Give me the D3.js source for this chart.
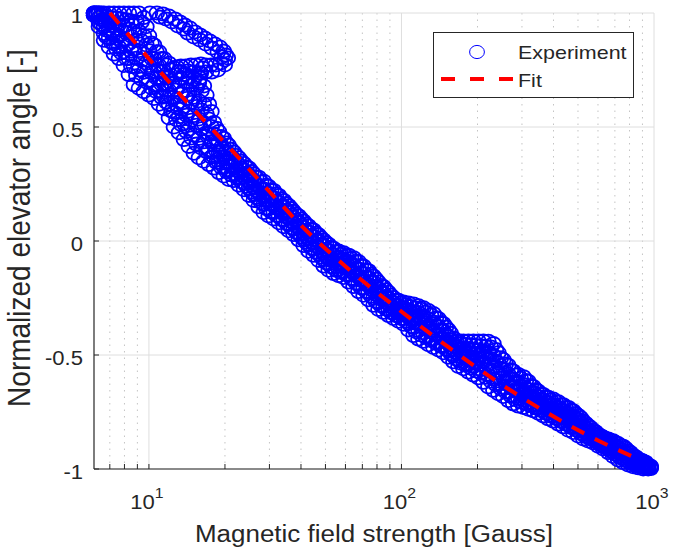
<!DOCTYPE html>
<html>
<head>
<meta charset="utf-8">
<script src="https://cdnjs.cloudflare.com/ajax/libs/d3/7.8.5/d3.min.js"></script>
<style>
  body { margin: 0; background: #fff; }
  svg text { font-family: "Liberation Sans", Arial, Helvetica, sans-serif; fill: #262626; }
</style>
</head>
<body>
<div id="chart"></div>
<script>
// magnetic field [Gauss] for sweeps 1-5
var field = [6.06, 6.34, 6.64, 6.95, 7.27, 7.61, 7.96, 8.33, 8.72, 9.13,
    9.55, 10.0, 10.47, 10.96, 11.47, 12.0, 12.56, 13.15, 13.76, 14.4,
    15.07, 15.77, 16.5, 17.27, 18.08, 18.92, 19.8, 20.7, 21.7, 22.7,
    23.8, 24.9, 26.0, 27.2, 28.5, 29.8, 31.2, 32.7, 34.2, 35.8,
    37.4, 39.2, 41.0, 42.9, 44.9, 47.0, 49.2, 51.5, 53.9, 56.4,
    59.0, 61.8, 64.6, 67.6, 70.8, 74.1, 77.5, 81.1, 84.9, 88.9,
    93.0, 97.3, 101.9, 106.6, 111.6, 116.8, 122.2, 127.9, 133.9, 140.1,
    146.6, 153.4, 160.6, 168.1, 175.9, 184.1, 192.7, 201.7, 211.1, 220.9,
    231.2, 242, 253, 265, 277, 290, 304, 318, 333, 348,
    364, 381, 399, 418, 437, 458, 479, 501, 525, 549,
    575, 601, 629, 659, 689, 721, 755, 790, 827, 866,
    906, 948];

// magnetic field [Gauss] for sweeps 6-9
var fieldB = [6.2, 6.49, 6.79, 7.11, 7.44, 7.78, 8.14, 8.52, 8.92, 9.34,
    9.77, 10.23, 10.71, 11.21, 11.73, 12.28, 12.85, 13.45, 14.08, 14.73,
    15.42, 16.13, 16.88, 17.67, 18.5, 19.36, 20.26, 21.18, 22.2, 23.22,
    24.35, 25.47, 26.6, 27.83, 29.16, 30.49, 31.92, 33.45, 34.99, 36.62,
    38.26, 40.1, 41.94, 43.89, 45.93, 48.08, 50.33, 52.68, 55.14, 57.7,
    60.36, 63.22, 66.09, 69.15, 72.43, 75.8, 79.28, 82.97, 86.85, 90.94,
    95.14, 99.54, 104.2, 109.1, 114.2, 119.5, 125.0, 130.8, 137.0, 143.3,
    150.0, 156.9, 164.3, 172.0, 179.9, 188.3, 197.1, 206.3, 216.0, 226.0,
    236.5, 247.6, 258.8, 271.1, 283.4, 296.7, 311, 325.3, 340.7, 356,
    372.4, 389.8, 408.2, 427.6, 447, 468.5, 490, 512.5, 537, 561.6,
    588.2, 614.8, 643.5, 674.2, 704.8, 737.6, 772.4, 808.2, 846, 886,
    926.8, 969.8];

// normalized elevator angle, one list per sweep
var sweep1 = [1.0, 1.0, 1.0, 1.0, 1.0, 1.0, 1.0, 1.0, 1.0, 1.0,
    0.98, 0.9, 0.86, 0.83, 0.8, 0.78, 0.76, 0.745, 0.73, 0.72,
    0.71, 0.7, 0.68, 0.6, 0.52, 0.48, 0.45, 0.42, 0.39, 0.365,
    0.34, 0.32, 0.295, 0.28, 0.262, 0.24, 0.222, 0.2, 0.178, 0.155,
    0.13, 0.11, 0.087, 0.066, 0.048, 0.027, 0.004, -0.015, -0.032, -0.044,
    -0.052, -0.062, -0.073, -0.09, -0.11, -0.13, -0.154, -0.18, -0.2, -0.225,
    -0.248, -0.26, -0.268, -0.272, -0.276, -0.284, -0.293, -0.305, -0.318, -0.34,
    -0.362, -0.39, -0.425, -0.437, -0.439, -0.439, -0.439, -0.439, -0.439, -0.44,
    -0.45, -0.49, -0.52, -0.545, -0.57, -0.585, -0.595, -0.615, -0.638, -0.658,
    -0.673, -0.685, -0.693, -0.705, -0.718, -0.73, -0.745, -0.765, -0.79, -0.81,
    -0.83, -0.848, -0.86, -0.868, -0.876, -0.888, -0.9, -0.92, -0.94, -0.955,
    -0.965, -0.985];
var sweep2 = [1.0, 1.0, 0.97, 0.96, 0.955, 0.95, 0.94, 0.93, 0.92, 0.92,
    0.9, 0.835, 0.8, 0.77, 0.745, 0.72, 0.695, 0.68, 0.66, 0.645,
    0.63, 0.615, 0.6, 0.535, 0.47, 0.435, 0.41, 0.385, 0.36, 0.335,
    0.31, 0.29, 0.265, 0.24, 0.228, 0.208, 0.19, 0.17, 0.15, 0.128,
    0.105, 0.084, 0.06, 0.039, 0.02, 0.0, -0.018, -0.043, -0.06, -0.071,
    -0.079, -0.092, -0.105, -0.123, -0.142, -0.162, -0.18, -0.21, -0.228, -0.25,
    -0.271, -0.283, -0.292, -0.302, -0.311, -0.314, -0.33, -0.342, -0.355, -0.375,
    -0.394, -0.42, -0.451, -0.465, -0.469, -0.473, -0.476, -0.479, -0.484, -0.49,
    -0.501, -0.535, -0.56, -0.584, -0.606, -0.62, -0.629, -0.652, -0.665, -0.682,
    -0.696, -0.709, -0.717, -0.73, -0.742, -0.755, -0.769, -0.782, -0.81, -0.827,
    -0.844, -0.861, -0.873, -0.883, -0.893, -0.906, -0.918, -0.936, -0.953, -0.965,
    -0.974, -0.989];
var sweep3 = [1.0, 0.98, 0.94, 0.93, 0.91, 0.9, 0.885, 0.865, 0.84, 0.835,
    0.82, 0.77, 0.745, 0.715, 0.69, 0.66, 0.63, 0.61, 0.59, 0.57,
    0.55, 0.535, 0.515, 0.47, 0.42, 0.39, 0.37, 0.345, 0.33, 0.305,
    0.28, 0.26, 0.235, 0.215, 0.193, 0.175, 0.16, 0.14, 0.12, 0.1,
    0.079, 0.057, 0.033, 0.01, -0.008, -0.029, -0.053, -0.071, -0.087, -0.098,
    -0.106, -0.121, -0.136, -0.156, -0.174, -0.194, -0.218, -0.24, -0.256, -0.276,
    -0.294, -0.306, -0.316, -0.331, -0.345, -0.357, -0.366, -0.38, -0.392, -0.409,
    -0.426, -0.45, -0.477, -0.493, -0.5, -0.507, -0.513, -0.52, -0.53, -0.54,
    -0.552, -0.58, -0.6, -0.622, -0.642, -0.655, -0.663, -0.677, -0.692, -0.707,
    -0.72, -0.733, -0.742, -0.754, -0.767, -0.78, -0.793, -0.81, -0.829, -0.844,
    -0.858, -0.874, -0.886, -0.898, -0.911, -0.924, -0.936, -0.951, -0.965, -0.975,
    -0.983, -0.993];
var sweep4 = [0.99, 0.96, 0.91, 0.89, 0.865, 0.85, 0.83, 0.8, 0.765, 0.75,
    0.74, 0.705, 0.685, 0.66, 0.635, 0.6, 0.565, 0.545, 0.515, 0.49,
    0.465, 0.45, 0.435, 0.4, 0.37, 0.345, 0.325, 0.31, 0.295, 0.275,
    0.255, 0.23, 0.205, 0.185, 0.16, 0.143, 0.128, 0.11, 0.092, 0.072,
    0.053, 0.031, 0.007, -0.017, -0.035, -0.057, -0.082, -0.1, -0.115, -0.125,
    -0.133, -0.15, -0.168, -0.19, -0.206, -0.226, -0.25, -0.27, -0.285, -0.3,
    -0.317, -0.329, -0.34, -0.36, -0.38, -0.393, -0.403, -0.418, -0.43, -0.444,
    -0.458, -0.48, -0.504, -0.522, -0.53, -0.541, -0.551, -0.56, -0.575, -0.59,
    -0.604, -0.625, -0.641, -0.661, -0.678, -0.689, -0.696, -0.707, -0.718, -0.731,
    -0.743, -0.756, -0.766, -0.779, -0.791, -0.805, -0.816, -0.833, -0.849, -0.86,
    -0.872, -0.887, -0.899, -0.913, -0.928, -0.942, -0.954, -0.967, -0.978, -0.985,
    -0.991, -0.996];
var sweep5 = [0.99, 0.94, 0.88, 0.85, 0.82, 0.8, 0.77, 0.73, 0.685, 0.67,
    0.655, 0.64, 0.625, 0.6, 0.58, 0.54, 0.5, 0.475, 0.445, 0.415,
    0.385, 0.365, 0.35, 0.335, 0.32, 0.3, 0.285, 0.27, 0.265, 0.245,
    0.225, 0.2, 0.178, 0.15, 0.125, 0.11, 0.097, 0.08, 0.063, 0.045,
    0.028, 0.005, -0.02, -0.045, -0.063, -0.085, -0.11, -0.128, -0.143, -0.152,
    -0.16, -0.18, -0.2, -0.222, -0.238, -0.258, -0.282, -0.3, -0.313, -0.327,
    -0.34, -0.352, -0.365, -0.39, -0.415, -0.43, -0.44, -0.455, -0.467, -0.478,
    -0.49, -0.51, -0.53, -0.55, -0.56, -0.575, -0.588, -0.6, -0.62, -0.64,
    -0.655, -0.67, -0.682, -0.7, -0.714, -0.724, -0.73, -0.738, -0.745, -0.755,
    -0.767, -0.78, -0.79, -0.803, -0.815, -0.83, -0.84, -0.855, -0.868, -0.877,
    -0.886, -0.9, -0.912, -0.928, -0.945, -0.96, -0.972, -0.982, -0.99, -0.995,
    -1.0, -1.0];
var sweep6 = [1.0, 1.0, 0.985, 0.98, 0.978, 0.975, 0.97, 0.965, 0.96, 0.96,
    0.94, 0.868, 0.83, 0.8, 0.772, 0.75, 0.728, 0.712, 0.695, 0.682,
    0.67, 0.658, 0.64, 0.568, 0.495, 0.458, 0.43, 0.402, 0.375, 0.35,
    0.325, 0.305, 0.28, 0.26, 0.245, 0.224, 0.206, 0.185, 0.164, 0.142,
    0.118, 0.097, 0.074, 0.052, 0.034, 0.014, -0.007, -0.029, -0.046, -0.058,
    -0.066, -0.077, -0.089, -0.107, -0.126, -0.146, -0.167, -0.195, -0.214, -0.238,
    -0.26, -0.272, -0.28, -0.287, -0.294, -0.299, -0.312, -0.324, -0.337, -0.358,
    -0.378, -0.405, -0.438, -0.451, -0.454, -0.456, -0.458, -0.459, -0.462, -0.465,
    -0.476, -0.512, -0.54, -0.565, -0.588, -0.602, -0.612, -0.634, -0.652, -0.67,
    -0.684, -0.697, -0.705, -0.718, -0.73, -0.742, -0.757, -0.774, -0.8, -0.818,
    -0.837, -0.854, -0.866, -0.876, -0.884, -0.897, -0.909, -0.928, -0.946, -0.96,
    -0.97, -0.987];
var sweep7 = [1.0, 0.99, 0.955, 0.945, 0.932, 0.925, 0.912, 0.898, 0.88, 0.878,
    0.86, 0.802, 0.772, 0.742, 0.718, 0.69, 0.662, 0.645, 0.625, 0.608,
    0.59, 0.575, 0.558, 0.502, 0.445, 0.412, 0.39, 0.365, 0.345, 0.32,
    0.295, 0.275, 0.25, 0.228, 0.21, 0.192, 0.175, 0.155, 0.135, 0.114,
    0.092, 0.07, 0.046, 0.024, 0.006, -0.014, -0.036, -0.057, -0.074, -0.084,
    -0.092, -0.106, -0.12, -0.14, -0.158, -0.178, -0.199, -0.225, -0.242, -0.263,
    -0.282, -0.294, -0.304, -0.316, -0.328, -0.336, -0.348, -0.361, -0.374, -0.392,
    -0.41, -0.435, -0.464, -0.479, -0.484, -0.49, -0.494, -0.5, -0.507, -0.515,
    -0.526, -0.558, -0.58, -0.603, -0.624, -0.638, -0.646, -0.664, -0.678, -0.694,
    -0.708, -0.721, -0.73, -0.742, -0.754, -0.768, -0.781, -0.796, -0.82, -0.836,
    -0.851, -0.868, -0.88, -0.89, -0.902, -0.915, -0.927, -0.944, -0.959, -0.97,
    -0.978, -0.991];
var sweep8 = [0.995, 0.97, 0.925, 0.91, 0.888, 0.875, 0.858, 0.832, 0.802, 0.792,
    0.78, 0.738, 0.715, 0.688, 0.662, 0.63, 0.598, 0.578, 0.552, 0.53,
    0.508, 0.492, 0.475, 0.435, 0.395, 0.368, 0.348, 0.328, 0.312, 0.29,
    0.268, 0.245, 0.22, 0.2, 0.176, 0.159, 0.144, 0.125, 0.106, 0.086,
    0.066, 0.044, 0.02, -0.004, -0.022, -0.043, -0.068, -0.086, -0.101, -0.112,
    -0.12, -0.136, -0.152, -0.173, -0.19, -0.21, -0.234, -0.255, -0.27, -0.288,
    -0.306, -0.318, -0.328, -0.346, -0.362, -0.375, -0.384, -0.399, -0.411, -0.426,
    -0.442, -0.465, -0.49, -0.508, -0.515, -0.524, -0.532, -0.54, -0.552, -0.565,
    -0.578, -0.602, -0.62, -0.642, -0.66, -0.672, -0.68, -0.692, -0.705, -0.719,
    -0.732, -0.744, -0.754, -0.766, -0.779, -0.792, -0.804, -0.822, -0.839, -0.852,
    -0.865, -0.88, -0.892, -0.906, -0.92, -0.933, -0.945, -0.959, -0.972, -0.98,
    -0.987, -0.995];
var sweep9 = [0.99, 0.95, 0.895, 0.87, 0.842, 0.825, 0.8, 0.765, 0.725, 0.71,
    0.698, 0.672, 0.655, 0.63, 0.608, 0.57, 0.532, 0.51, 0.48, 0.452,
    0.425, 0.408, 0.392, 0.368, 0.345, 0.322, 0.305, 0.29, 0.28, 0.26,
    0.24, 0.215, 0.192, 0.168, 0.142, 0.126, 0.112, 0.095, 0.078, 0.058,
    0.04, 0.018, -0.006, -0.031, -0.049, -0.071, -0.096, -0.114, -0.129, -0.138,
    -0.146, -0.165, -0.184, -0.206, -0.222, -0.242, -0.266, -0.285, -0.299, -0.314,
    -0.328, -0.34, -0.352, -0.375, -0.398, -0.412, -0.422, -0.436, -0.448, -0.461,
    -0.474, -0.495, -0.517, -0.536, -0.545, -0.558, -0.57, -0.58, -0.598, -0.615,
    -0.63, -0.648, -0.662, -0.68, -0.696, -0.706, -0.713, -0.722, -0.732, -0.743,
    -0.755, -0.768, -0.778, -0.791, -0.803, -0.818, -0.828, -0.844, -0.858, -0.868,
    -0.879, -0.894, -0.906, -0.92, -0.936, -0.951, -0.963, -0.974, -0.984, -0.99,
    -0.996, -0.998];

// the hysteresis loop near 10-20 Gauss
var loopField = [10.09, 10.75, 11.36, 12.0, 12.67, 13.26, 13.88, 14.53, 15.21, 15.91,
    16.65, 17.43, 18.24, 19.09, 19.78, 20.14, 19.96, 19.26, 18.4, 17.6,
    16.8, 16.06, 15.35, 14.67, 14.0, 13.38, 12.9, 16.35, 16.06, 15.91, 15.76,
    14.26, 15.06, 15.91, 16.8, 17.74, 18.74, 19.43, 18.74, 17.74, 16.8,
    15.91, 15.06, 14.26, 13.5, 11.05, 11.67, 12.33, 13.02, 13.75, 19.96, 20.52];
var loopAngle = [1.0, 1.0, 0.996, 0.987, 0.974, 0.961, 0.947, 0.934, 0.917, 0.904,
    0.89, 0.877, 0.864, 0.851, 0.833, 0.816, 0.794, 0.781, 0.772, 0.772,
    0.772, 0.776, 0.772, 0.772, 0.768, 0.768, 0.763, 0.759, 0.737, 0.715, 0.693,
    0.912, 0.895, 0.882, 0.864, 0.846, 0.829, 0.807, 0.75, 0.741, 0.741,
    0.737, 0.741, 0.746, 0.741, 0.982, 0.974, 0.961, 0.943, 0.93, 0.772, 0.803];

// fit curve
var fitField = [7.01, 10.1, 14.5, 20.9, 30.1, 39.5, 62.3, 98.2, 155, 244, 385, 606, 849];
var fitAngle = [1.0, 0.794, 0.596, 0.408, 0.215, 0.075, -0.127, -0.303, -0.469, -0.623, -0.759, -0.877, -0.952];

var yTicks = [-1, -0.5, 0, 0.5, 1];
var yTickLabels = ["-1", "-0.5", "0", "0.5", "1"];
var xTicks = [10, 100, 1000];
var xTickExp = ["1", "2", "3"];

var W = 675, H = 551,
    margin = { top: 13, right: 21, bottom: 82, left: 94 },
    width = W - margin.left - margin.right,
    height = H - margin.top - margin.bottom,
    sx = 1.13,  // the picture is a little wider than tall
    axisCol = "#262626";

function stretched(x, y, rot) {
    return "translate(" + x + "," + y + ") scale(" + sx + ",1)" + (rot ? " rotate(" + rot + ")" : "");
}

function chart() {
    var x = d3.scaleLog().domain([6.06, 1000]).range([0, width]);
    var y = d3.scaleLinear().domain([-1, 1]).range([height, 0]);

    var root = d3.select("#chart").append("svg")
        .attr("width", W)
        .attr("height", H);

    var svg = root.append("g")
        .attr("transform", "translate(" + margin.left + "," + margin.top + ")");

    // minor grid (log decades)
    var minor = [];
    [1, 10, 100].forEach(function (dec) {
        for (var k = 2; k <= 9; k++) {
            if (k * dec > 6.06 && k * dec < 1000) minor.push(k * dec);
        }
    });

    svg.selectAll(".mgrid").data(minor).enter().append("line")
        .attr("x1", function (d) { return x(d); })
        .attr("x2", function (d) { return x(d); })
        .attr("y1", 0).attr("y2", height)
        .attr("stroke", "#c4c4c4")
        .attr("stroke-width", 1)
        .attr("stroke-dasharray", "1.5,5");

    svg.selectAll(".xgrid").data(xTicks).enter().append("line")
        .attr("x1", function (d) { return x(d); })
        .attr("x2", function (d) { return x(d); })
        .attr("y1", 0).attr("y2", height)
        .attr("stroke", "#dedede");

    svg.selectAll(".ygrid").data(yTicks).enter().append("line")
        .attr("x1", 0).attr("x2", width)
        .attr("y1", function (d) { return y(d); })
        .attr("y2", function (d) { return y(d); })
        .attr("stroke", "#dedede");

    // axes
    svg.append("line").attr("x1", 0).attr("x2", 0).attr("y1", 0).attr("y2", height)
        .attr("stroke", axisCol).attr("stroke-width", 1.2);
    svg.append("line").attr("x1", 0).attr("x2", width).attr("y1", height).attr("y2", height)
        .attr("stroke", axisCol).attr("stroke-width", 1.2);

    svg.selectAll(".ytick").data(yTicks).enter().append("line")
        .attr("x1", 0).attr("x2", 5)
        .attr("y1", function (d) { return y(d); })
        .attr("y2", function (d) { return y(d); })
        .attr("stroke", axisCol);

    svg.selectAll(".xtick").data(xTicks.concat(minor)).enter().append("line")
        .attr("x1", function (d) { return x(d); })
        .attr("x2", function (d) { return x(d); })
        .attr("y1", height).attr("y2", height - 5)
        .attr("stroke", axisCol);

    // experiment points
    var pts = [];
    [sweep1, sweep2, sweep3, sweep4, sweep5].forEach(function (s) {
        s.forEach(function (v, i) { pts.push([field[i], v]); });
    });
    [sweep6, sweep7, sweep8, sweep9].forEach(function (s) {
        s.forEach(function (v, i) { pts.push([fieldB[i], v]); });
    });
    loopField.forEach(function (f, i) { pts.push([f, loopAngle[i]]); });

    svg.selectAll(".pt").data(pts).enter().append("ellipse")
        .attr("class", "pt")
        .attr("cx", function (d) { return x(d[0]); })
        .attr("cy", function (d) { return y(d[1]); })
        .attr("rx", 7.4)
        .attr("ry", 6.6)
        .attr("fill", "none")
        .attr("stroke", "#0000ff")
        .attr("stroke-width", 1.8);

    // fit
    var line = d3.line()
        .x(function (d, i) { return x(fitField[i]); })
        .y(function (d, i) { return y(fitAngle[i]); })
        .curve(d3.curveMonotoneX);

    svg.append("path")
        .datum(fitField)
        .attr("d", line)
        .attr("fill", "none")
        .attr("stroke", "#ff0000")
        .attr("stroke-width", 4)
        .attr("stroke-dasharray", "14,12");

    // tick labels
    svg.selectAll(".ytl").data(yTicks).enter().append("text")
        .attr("transform", function (d) { return stretched(-11, y(d) + 10); })
        .attr("text-anchor", "end")
        .style("font-size", "19.5px")
        .text(function (d, i) { return yTickLabels[i]; });

    var xl = svg.selectAll(".xtl").data(xTicks).enter().append("text")
        .attr("transform", function (d) { return stretched(x(d) - 2, height + 40); })
        .attr("text-anchor", "middle")
        .style("font-size", "19.5px");
    xl.append("tspan").text("10");
    xl.append("tspan")
        .attr("dy", -11)
        .style("font-size", "14px")
        .text(function (d, i) { return xTickExp[i]; });

    // axis labels
    svg.append("text")
        .attr("transform", stretched(width / 2, height + 73))
        .attr("text-anchor", "middle")
        .style("font-size", "23px")
        .text("Magnetic field strength [Gauss]");

    svg.append("text")
        .attr("transform", stretched(-64, 215, -90))
        .attr("text-anchor", "middle")
        .style("font-size", "28px")
        .text("Normalized elevator angle [-]");

    // legend
    var lg = root.append("g");
    lg.append("rect")
        .attr("x", 433.5).attr("y", 32.5)
        .attr("width", 200).attr("height", 65)
        .attr("fill", "#fff")
        .attr("stroke", axisCol);
    lg.append("ellipse")
        .attr("cx", 477).attr("cy", 52)
        .attr("rx", 7.4).attr("ry", 6.6)
        .attr("fill", "none")
        .attr("stroke", "#0000ff");
    lg.append("line")
        .attr("x1", 441).attr("x2", 513)
        .attr("y1", 79).attr("y2", 79)
        .attr("stroke", "#ff0000")
        .attr("stroke-width", 4)
        .attr("stroke-dasharray", "14,15");
    lg.append("text")
        .attr("transform", stretched(518, 59))
        .style("font-size", "19px")
        .text("Experiment");
    lg.append("text")
        .attr("transform", stretched(518, 87))
        .style("font-size", "19px")
        .text("Fit");
}

chart();
</script>
</body>
</html>
